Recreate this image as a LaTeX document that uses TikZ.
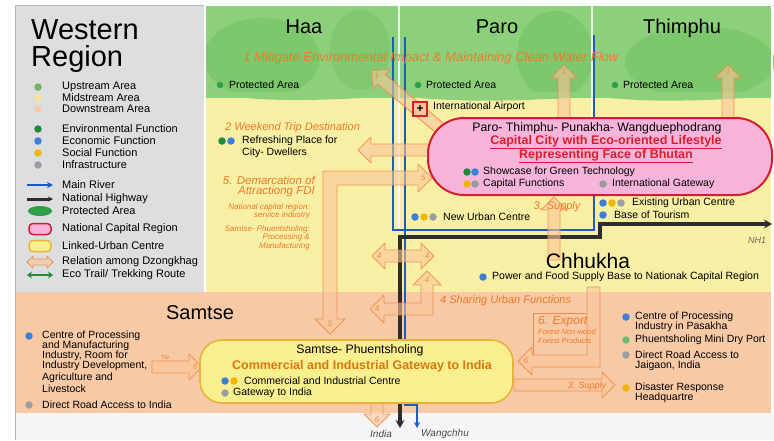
\documentclass[tikz,border=0pt]{standalone}
\usepackage{fontspec}
\setmainfont{Liberation Sans}
\usetikzlibrary{arrows.meta}
\definecolor{legbg}{HTML}{DDDEDF}
\definecolor{upg}{HTML}{8DD07C}
\definecolor{upgd}{HTML}{79C568}
\definecolor{midy}{HTML}{F7EFA3}
\definecolor{downs}{HTML}{F8C9A5}
\definecolor{envg}{HTML}{1E8A3C}
\definecolor{protg}{HTML}{2E9E48}
\definecolor{econ}{HTML}{3C7ED8}
\definecolor{soc}{HTML}{F2B600}
\definecolor{infra}{HTML}{9A9EA3}
\definecolor{river}{HTML}{1F5BBE}
\definecolor{hwy}{HTML}{2D2D2D}
\definecolor{relf}{HTML}{F9C69A}
\definecolor{reld}{HTML}{EE8A4C}
\definecolor{orgtxt}{HTML}{EE7A2A}
\definecolor{pinkf}{HTML}{F6B4DA}
\definecolor{redb}{HTML}{D21F2E}
\definecolor{yelf}{HTML}{F8F08E}
\definecolor{yelb}{HTML}{E8B23C}
\definecolor{capred}{HTML}{D8202C}
\definecolor{gwor}{HTML}{D9780F}
\newcommand\myfs[1]{\fontsize{#1}{#1}\selectfont}
\newcommand\myfsb[2]{\fontsize{#1}{#2}\selectfont}
\newcommand\relarr[5]{%
\begin{scope}[shift={(#1,#2)},rotate=#3]
\filldraw[rel] (0,-6) -- ({#4-13},-6) -- ({#4-13},-13) -- (#4,0) -- ({#4-13},13) -- ({#4-13},6) -- (0,6) -- cycle;
\node[rellab] at ({#4-7},0) {#5};
\end{scope}}
\newcommand\relarrd[6]{%
\begin{scope}[shift={(#1,#2)},rotate=#3]
\filldraw[rel] (0,0) -- (13,-13) -- (13,-6) -- ({#4-13},-6) -- ({#4-13},-13) -- (#4,0) -- ({#4-13},13) -- ({#4-13},6) -- (13,6) -- (13,13) -- cycle;
\node[rellab] at (7,0) {#5};
\node[rellab] at ({#4-7},0) {#6};
\end{scope}}
\begin{document}
\begin{tikzpicture}[x=1pt,y=-1pt,
 tx/.style={anchor=west, inner sep=0, font=\myfs{10.5}},
 lg/.style={anchor=west, inner sep=0, font=\myfs{11}},
 ot/.style={inner sep=0, font=\myfs{11}\itshape, text=orgtxt},
 fdot/.style={circle, inner sep=0, minimum size=7.5},
 rel/.style={fill=relf, draw=reld, line width=0.9, fill opacity=0.6, draw opacity=0.85, line join=round},
 rellab/.style={inner sep=0, font=\myfs{8}\itshape, text=reld},
 hdr/.style={anchor=base, inner sep=0, font=\myfs{20}},
 riv/.style={draw=river, line width=1.8},
 hw/.style={draw=hwy, line width=3.5}
]
\useasboundingbox (0,0) rectangle (774,440);
\fill[white] (0,0) rectangle (774,440);
% frame and regions
\fill[black!4] (15,5) rectangle (774,440);
\fill[legbg] (15,5) rectangle (205,292);
\fill[midy] (205,98) rectangle (772,292);
\fill[upg] (205,5) rectangle (772,98);
\fill[upgd, opacity=0.8] (262,58) ellipse (58 and 40);
\fill[upgd, opacity=0.6] (360,50) ellipse (30 and 40);
\fill[upgd, opacity=0.8] (555,55) ellipse (38 and 44);
\fill[upgd, opacity=0.8] (700,62) ellipse (75 and 36);
\fill[upg] (205,92) .. controls (260,104) and (330,100) .. (398,96) .. controls (470,104) and (540,100) .. (593,96) .. controls (650,104) and (720,100) .. (772,96) -- (772,92) -- cycle;
\fill[downs] (15,292) rectangle (772,413);
\fill[blue!3!black!4] (15,413) rectangle (774,440);
\draw[black!30, line width=1] (15,440) -- (15,5) -- (774,5);
\draw[white, line width=2] (205,5) -- (205,292);
\draw[white, line width=2.5, opacity=0.8] (399,5) -- (399,228);
\draw[white, line width=2.5, opacity=0.8] (592,5) -- (592,118);
\draw[white, line width=1.5] (205,5) -- (772,5) -- (772,413);

% legend
\node[anchor=north west, inner sep=0, align=left, font=\myfsb{29}{27}] (title) at (31,19) {Western\\Region};
\node[fdot, fill=upg!85!black] (lu) at (38,87) {};
\node[lg] (lut) at (62,87) {Upstream Area};
\node[fdot, fill=midy!90!orange] (lm) at (38,98) {};
\node[lg] (lmt) at (62,98) {Midstream Area};
\node[fdot, fill=downs] (ld) at (38,109) {};
\node[lg] (ldt) at (62,109) {Downstream Area};
\node[fdot, fill=envg] (le) at (38,129) {};
\node[lg] (let) at (62,129) {Environmental Function};
\node[fdot, fill=econ] (lec) at (38,141) {};
\node[lg] (lect) at (62,141) {Economic Function};
\node[fdot, fill=soc] (ls) at (38,153) {};
\node[lg] (lst) at (62,153) {Social Function};
\node[fdot, fill=infra] (li) at (38,165) {};
\node[lg] (lit) at (62,165) {Infrastructure};
\coordinate (lr1) at (27,185); \coordinate (lr2) at (53,185);
\draw[riv, -{Stealth[length=6pt,width=6pt]}] (lr1) -- (lr2);
\node[lg] (lrt) at (62,185) {Main River};
\coordinate (lh1) at (27,199); \coordinate (lh2) at (53,199);
\draw[hw, line width=3, -{Stealth[length=5pt,width=5pt]}] (lh1) -- (lh2);
\node[lg] (lht) at (62,199) {National Highway};
\fill[protg] (40,211) ellipse (12 and 5);
\node[lg] (lpt) at (62,211) {Protected Area};
\node[draw=redb, fill=pinkf, line width=1.5, rounded corners=4, minimum width=22, minimum height=11, inner sep=0] (lncr) at (40,229) {};
\node[lg] (lncrt) at (62,229) {National Capital Region};
\node[draw=yelb, fill=yelf, line width=1.5, rounded corners=4, minimum width=22, minimum height=11, inner sep=0] (llk) at (40,246) {};
\node[lg] (llkt) at (62,246) {Linked-Urban Centre};
\filldraw[rel] (27,262) -- (33,256) -- (33,259) -- (47,259) -- (47,256) -- (53,262) -- (47,268) -- (47,265) -- (33,265) -- (33,268) -- cycle;
\node[lg] (lrelt) at (62,262) {Relation among Dzongkhag};
\coordinate (le1) at (27,275); \coordinate (le2) at (53,275);
\draw[envg, line width=2.2, {Stealth[length=5pt,width=7pt]}-{Stealth[length=5pt,width=7pt]}] (le1) -- (le2);
\node[lg] (lecot) at (62,275) {Eco Trail/ Trekking Route};

% rivers and highway
\draw[riv] (393,37) -- (393,230) -- (594,230) -- (594,35);
\draw[riv, -{Stealth[length=6pt,width=6pt]}] (405,37) -- (405,405) -- (417,405) -- (417,428);
\draw[hw, {Stealth[length=8pt,width=9pt]}-{Stealth[length=8pt,width=9pt]}] (400,428) -- (400,237) -- (600,237) -- (600,224) -- (772,224);

% relation arrows
\relarr{442}{130}{140}{92}{1}
\relarr{564}{122}{90}{57}{1}
\relarr{728}{124}{90}{59}{1}
\relarr{436}{150}{180}{78}{}
\filldraw[rel] (432,178) -- (418,164) -- (418,171) -- (323,171) -- (323,319) -- (315,319) -- (330,334) -- (345,319) -- (337,319) -- (337,185) -- (418,185) -- (418,192) -- cycle;
\node[rellab] at (423,178) {5};
\node[rellab] at (330,324) {5};
\relarrd{372}{256}{0}{62}{4}{4}
\filldraw[rel] (427,271) -- (441,285) -- (433,285) -- (433,315) -- (384,315) -- (384,323) -- (370,309) -- (384,295) -- (384,303) -- (421,303) -- (421,285) -- (413,285) -- cycle;
\node[rellab] at (377,309) {4};
\node[rellab] at (427,280) {4};
\relarr{554}{260}{90}{63}{}
\filldraw[rel] (587,287) -- (600,287) -- (600,367) -- (532,367) -- (532,375) -- (518,361) -- (532,347) -- (532,355) -- (587,355) -- cycle;
\draw[reld, line width=0.8] (533,355) -- (533,313) -- (587,313);
\node[rellab] at (526,361) {6};
\relarr{514}{385}{0}{101}{}
\relarr{152}{367}{0}{50}{6}
\relarr{377}{403}{-90}{24}{6}

% boxes
\node[draw=redb, line width=2, fill=pinkf, rounded corners=36, minimum width=344, minimum height=77, inner sep=0] (ncr) at (600,156.5) {};
\node[draw=yelb, line width=1.6, fill=yelf, rounded corners=22, minimum width=313, minimum height=63, inner sep=0] (sp) at (356.5,371.5) {};

% headers
\node[hdr] (haa) at (304,33) {Haa};
\node[hdr] (paro) at (497,33) {Paro};
\node[hdr] (thim) at (682,33) {Thimphu};
\node[hdr, font=\myfs{21}] (chh) at (588,268) {Chhukha};
\node[hdr] (sam) at (200,319) {Samtse};

% top area
\node[ot, font=\myfs{13}\itshape] (mit) at (431,58) {1 Mitigate Environmental Impact \& Maintaining Clean Water Flow};
\node[fdot, fill=protg, minimum size=6.5] (pa1) at (220,85) {};
\node[tx] (pa1t) at (229,85) {Protected Area};
\node[fdot, fill=protg, minimum size=6.5] (pa2) at (418,85) {};
\node[tx] (pa2t) at (426,85) {Protected Area};
\node[fdot, fill=protg, minimum size=6.5] (pa3) at (615,85) {};
\node[tx] (pa3t) at (623,85) {Protected Area};
\node[draw=redb, fill=relf, line width=1.2, minimum size=14, inner sep=0, font=\myfs{12}\bfseries] (apt) at (420,109) {+};
\node[tx] (aptt) at (433,107) {International Airport};

% Haa midstream
\node[ot, anchor=west] (wk) at (225,128) {2 Weekend Trip Destination};
\node[fdot, fill=envg] (rf1) at (222,141) {};
\node[fdot, fill=econ] (rf2) at (231,141) {};
\node[tx] (rft) at (242,141) {Refreshing Place for};
\node[tx] (rft2) at (242,153) {City- Dwellers};
\node[ot, anchor=east, font=\myfs{11.5}\itshape] (dm1) at (315,180) {5. Demarcation of};
\node[ot, anchor=east, font=\myfs{11.5}\itshape] (dm2) at (315,192) {Attractiong FDI};
\node[ot, anchor=east, font=\myfs{8}\itshape] (dm3) at (310,207) {National capital region:};
\node[ot, anchor=east, font=\myfs{8}\itshape] (dm4) at (310,215) {service industry};
\node[ot, anchor=east, font=\myfs{8}\itshape] (dm5) at (310,229) {Samtse- Phuentsholing:};
\node[ot, anchor=east, font=\myfs{8}\itshape] (dm6) at (310,237) {Processing \&};
\node[ot, anchor=east, font=\myfs{8}\itshape] (dm7) at (310,246) {Manufacturing};

% NCR contents
\node[inner sep=0, font=\myfs{12.3}] (ncr0) at (597,128) {Paro- Thimphu- Punakha- Wangduephodrang};
\node[inner sep=0, font=\myfs{12.5}\bfseries, text=capred] (ncr1) at (606,142) {\underline{Capital City with Eco-oriented Lifestyle}};
\node[inner sep=0, font=\myfs{12.5}\bfseries, text=capred] (ncr2) at (606,156) {\underline{Representing Face of Bhutan}};
\node[fdot, fill=envg] (n1a) at (467,172) {};
\node[fdot, fill=econ] (n1b) at (475,172) {};
\node[tx] (n1t) at (483,172) {Showcase for Green Technology};
\node[fdot, fill=soc] (n2a) at (467,184) {};
\node[fdot, fill=infra] (n2b) at (475,184) {};
\node[tx] (n2t) at (483,184) {Capital Functions};
\node[fdot, fill=infra] (n3a) at (603,184) {};
\node[tx] (n3t) at (612,184) {International Gateway};

% around NCR
\node[fdot, fill=econ] (nu1) at (415,217) {};
\node[fdot, fill=soc] (nu2) at (424,217) {};
\node[fdot, fill=infra] (nu3) at (433,217) {};
\node[tx] (nut) at (443,217) {New Urban Centre};
\node[ot, font=\myfs{11}\itshape] (sup1) at (557,207) {3. Supply};
\node[fdot, fill=econ] (eu1) at (603,203) {};
\node[fdot, fill=soc] (eu2) at (612,203) {};
\node[fdot, fill=infra] (eu3) at (621,203) {};
\node[tx] (eut) at (632,203) {Existing Urban Centre};
\node[fdot, fill=econ] (bt) at (603,215) {};
\node[tx] (btt) at (614,215) {Base of Tourism};
\node[inner sep=0, font=\myfs{9}\itshape, text=black!60] (nh1) at (757,240) {NH1};
\node[fdot, fill=econ] (pw) at (483,277) {};
\node[tx] (pwt) at (492,277) {Power and Food Supply Base to Nationak Capital Region};

% Samtse left
\node[fdot, fill=econ] (sl1) at (29,336) {};
\node[tx] (sl1a) at (42,336) {Centre of Processing};
\node[tx] (sl1b) at (42,346) {and Manufacturing};
\node[tx] (sl1c) at (42,356) {Industry, Room for};
\node[tx] (sl1d) at (42,366) {Industry Development,};
\node[tx] (sl1e) at (42,378) {Agriculture and};
\node[tx] (sl1f) at (42,389) {Livestock};
\node[fdot, fill=infra] (sl2) at (29,405) {};
\node[tx] (sl2t) at (42,405) {Direct Road Access to India};
\node[ot, font=\myfs{6}\itshape] (tie) at (165,357) {Tie};

% Samtse-Phuentsholing box
\node[inner sep=0, font=\myfs{12.3}] (sp0) at (360,350) {Samtse- Phuentsholing};
\node[inner sep=0, font=\myfs{12.5}\bfseries, text=gwor] (sp1) at (362,366) {Commercial and Industrial Gateway to India};
\node[fdot, fill=econ] (sp2a) at (225,381) {};
\node[fdot, fill=soc] (sp2b) at (234,381) {};
\node[tx] (sp2t) at (244,381) {Commercial and Industrial Centre};
\node[fdot, fill=infra] (sp3a) at (225,393) {};
\node[tx] (sp3t) at (233,393) {Gateway to India};

% relation labels in downstream
\node[ot, anchor=west] (shr) at (440,301) {4 Sharing Urban Functions};
\node[ot, anchor=west, font=\myfs{12}\itshape] (exp) at (538,322) {6. Export};
\node[ot, anchor=west, font=\myfs{7.5}\itshape] (exp2) at (538,332) {Forest Non-wood};
\node[ot, anchor=west, font=\myfs{7.5}\itshape] (exp3) at (538,341) {Forest Products};
\node[ot, font=\myfs{9}\itshape] (sup2) at (587,386) {3. Supply};

% Samtse right
\node[fdot, fill=econ] (sr1) at (626,317) {};
\node[tx] (sr1a) at (635,317) {Centre of Processing};
\node[tx] (sr1b) at (635,327) {Industry in Pasakha};
\node[fdot, fill=infra!70!green] (sr2) at (626,340) {};
\node[tx] (sr2t) at (635,340) {Phuentsholing Mini Dry Port};
\node[fdot, fill=infra] (sr3) at (626,355) {};
\node[tx] (sr3a) at (635,355) {Direct Road Access to};
\node[tx] (sr3b) at (635,366) {Jaigaon, India};
\node[fdot, fill=soc] (sr4) at (626,388) {};
\node[tx] (sr4a) at (635,388) {Disaster Response};
\node[tx] (sr4b) at (635,398) {Headquartre};

% bottom
\node[inner sep=0, font=\myfs{10}\itshape, text=black!70] (ind) at (381,434) {India};
\node[inner sep=0, font=\myfs{10}\itshape, text=black!70] (wang) at (445,434) {Wangchhu};
\end{tikzpicture}
\end{document}
